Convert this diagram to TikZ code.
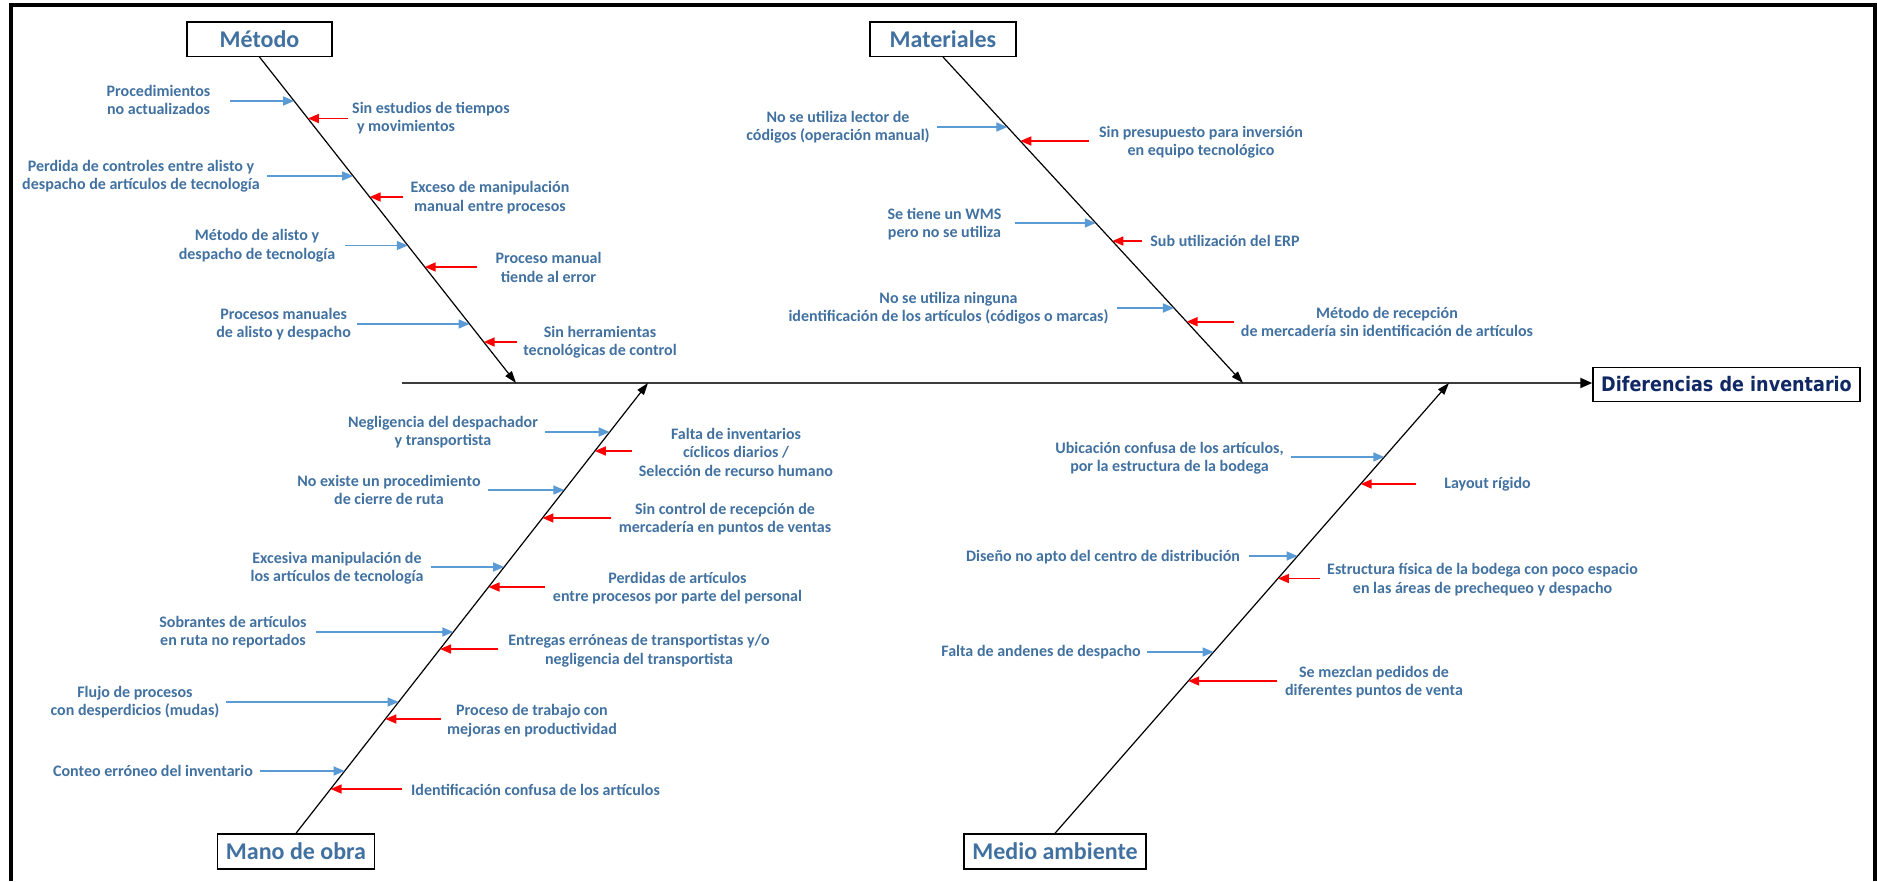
\documentclass[tikz,border=0pt]{standalone}
\usepackage{fontspec}
\setmainfont{Carlito}
\newfontfamily\efffont{DejaVu Sans}[FakeStretch=0.88]
\usetikzlibrary{arrows.meta,calc}
\definecolor{labtxt}{RGB}{65,113,160}
\definecolor{arrblue}{RGB}{91,155,213}
\definecolor{arrred}{RGB}{255,0,0}
\definecolor{efftxt}{RGB}{16,40,100}
\definecolor{spinegray}{RGB}{60,60,60}
\newcommand\causearr[6]{%
  \coordinate (#6s) at (#4,#5);
  \path let \p1=(#2), \p2=(#3) in
    coordinate (#6e) at ({\x1+(\x2-\x1)/(\y2-\y1)*((-#5pt)-(\y1))}, {-#5pt});
  \draw[#1] (#6s) -- (#6e);
}
\begin{document}
\begin{tikzpicture}[x=1pt,y=-1pt,
  lab/.style={font=\bfseries\fontsize{16}{18.5}\selectfont, text=labtxt, inner sep=0pt, align=center},
  cat/.style={draw=black, line width=1.5pt, fill=white, font=\bfseries\fontsize{24}{28}\selectfont, text=labtxt, inner sep=0pt},
  barr/.style={draw=arrblue, line width=1.6pt, -{Triangle[length=11pt,width=9pt]}},
  rarr/.style={draw=arrred, line width=1.6pt, -{Triangle[length=11pt,width=9pt]}},
  bone/.style={draw=black, line width=1.2pt, -{Triangle[length=12pt,width=8pt]}},
  spine/.style={draw=spinegray, line width=2pt, -{Triangle[length=12pt,width=10pt,color=black]}},
  frame/.style={draw=black, line width=3.5pt}]
\useasboundingbox (0,0) rectangle (1877,881);
\draw[frame] (11,881) -- (11,5) -- (1875,5) -- (1875,881);

% category boxes
\node[cat, minimum width=145pt, minimum height=34.5pt] (metodo) at (259.5,39) {Método};
\node[cat, minimum width=146pt, minimum height=34.5pt] (materiales) at (943,39) {Materiales};
\node[cat, minimum width=157pt, minimum height=35pt] (mano) at (296,851.5) {Mano de obra};
\node[cat, minimum width=182pt, minimum height=35pt] (medio) at (1055,851.5) {Medio ambiente};
\node[draw=black, line width=1.5pt, fill=white, minimum width=267pt, minimum height=34pt, inner sep=0pt,
      font=\efffont\bfseries\fontsize{20}{24}\selectfont, text=efftxt] (effect) at (1726.5,384.5) {Diferencias de inventario};

% spine and bones
\coordinate (spst) at (402,383);
\coordinate (sptip) at (effect.west |- spst);
\draw[spine] (spst) -- (sptip);
\coordinate (mtip) at (516,383);
\coordinate (matip) at (1243,383);
\coordinate (motip) at (648,383);
\coordinate (metip) at (1449,383);
\draw[bone] (metodo.south) -- (mtip);
\draw[bone] (materiales.south) -- (matip);
\draw[bone] (mano.north) -- (motip);
\draw[bone] (medio.north) -- (metip);

% Metodo causes
\causearr{barr}{metodo.south}{mtip}{230}{101}{mb1}
\causearr{rarr}{metodo.south}{mtip}{348}{118.5}{mr1}
\causearr{barr}{metodo.south}{mtip}{267}{176}{mb2}
\causearr{rarr}{metodo.south}{mtip}{403}{197}{mr2}
\causearr{barr}{metodo.south}{mtip}{345}{245.5}{mb3}
\causearr{rarr}{metodo.south}{mtip}{477}{267}{mr3}
\causearr{barr}{metodo.south}{mtip}{357}{324}{mb4}
\causearr{rarr}{metodo.south}{mtip}{517}{342}{mr4}
\node[lab] (tmb1) at (158.5,100) {Procedimientos\\no actualizados};
\node[lab, align=left, anchor=west] (tmr1) at (352,118) {Sin estudios de tiempos\\\hspace{0.3em}y movimientos};
\node[lab] (tmb2) at (141,176) {Perdida de controles entre alisto y\\despacho de artículos de tecnología};
\node[lab] (tmr2) at (490,197.5) {Exceso de manipulación\\manual entre procesos};
\node[lab] (tmb3) at (257,245.5) {Método de alisto y\\despacho de tecnología};
\node[lab] (tmr3) at (548.5,267.5) {Proceso manual\\tiende al error};
\node[lab] (tmb4) at (283.6,324) {Procesos manuales\\de alisto y despacho};
\node[lab] (tmr4) at (600,342) {Sin herramientas\\tecnológicas de control};

% Materiales causes
\causearr{barr}{materiales.south}{matip}{937}{127}{ab1}
\causearr{rarr}{materiales.south}{matip}{1089}{141}{ar1}
\causearr{barr}{materiales.south}{matip}{1015}{223}{ab2}
\causearr{rarr}{materiales.south}{matip}{1141.5}{241}{ar2}
\causearr{barr}{materiales.south}{matip}{1117}{308}{ab3}
\causearr{rarr}{materiales.south}{matip}{1234}{321.7}{ar3}
\node[lab] (tab1) at (838,127) {No se utiliza lector de\\códigos (operación manual)};
\node[lab] (tar1) at (1201,142) {Sin presupuesto para inversión\\en equipo tecnológico};
\node[lab] (tab2) at (944.5,224) {Se tiene un WMS\\pero no se utiliza};
\node[lab] (tar2) at (1225,241) {Sub utilización del ERP};
\node[lab] (tab3) at (948.5,308) {No se utiliza ninguna\\identificación de los artículos (códigos o marcas)};
\node[lab] (tar3) at (1387,322) {Método de recepción\\de mercadería sin identificación de artículos};

% Mano de obra causes
\causearr{barr}{mano.north}{motip}{545}{432}{ob1}
\causearr{rarr}{mano.north}{motip}{631.5}{451}{or1}
\causearr{barr}{mano.north}{motip}{488}{490}{ob2}
\causearr{rarr}{mano.north}{motip}{611}{518}{or2}
\causearr{barr}{mano.north}{motip}{430.5}{567}{ob3}
\causearr{rarr}{mano.north}{motip}{545}{587}{or3}
\causearr{barr}{mano.north}{motip}{316}{632}{ob4}
\causearr{rarr}{mano.north}{motip}{498}{649}{or4}
\causearr{barr}{mano.north}{motip}{226}{702}{ob5}
\causearr{rarr}{mano.north}{motip}{441}{719}{or5}
\causearr{barr}{mano.north}{motip}{260}{771}{ob6}
\causearr{rarr}{mano.north}{motip}{402}{789}{or6}
\node[lab] (tob1) at (443,432) {Negligencia del despachador\\y transportista};
\node[lab] (tor1) at (736,452) {Falta de inventarios\\cíclicos diarios /\\Selección de recurso humano};
\node[lab] (tob2) at (389,490) {No existe un procedimiento\\de cierre de ruta};
\node[lab] (tor2) at (725,519) {Sin control de recepción de\\mercadería en puntos de ventas};
\node[lab] (tob3) at (337,568) {Excesiva manipulación de\\los artículos de tecnología};
\node[lab] (tor3) at (677.5,588) {Perdidas de artículos\\entre procesos por parte del personal};
\node[lab] (tob4) at (233,632) {Sobrantes de artículos\\en ruta no reportados};
\node[lab] (tor4) at (639,650.5) {Entregas erróneas de transportistas y/o\\negligencia del transportista};
\node[lab] (tob5) at (135,702) {Flujo de procesos\\con desperdicios (mudas)};
\node[lab] (tor5) at (532,720.5) {Proceso de trabajo con\\mejoras en productividad};
\node[lab] (tob6) at (153,771) {Conteo erróneo del inventario};
\node[lab] (tor6) at (535.5,790) {Identificación confusa de los artículos};

% Medio ambiente causes
\causearr{barr}{medio.north}{metip}{1290.6}{457}{eb1}
\causearr{rarr}{medio.north}{metip}{1415.6}{484}{er1}
\causearr{barr}{medio.north}{metip}{1249}{556}{eb2}
\causearr{rarr}{medio.north}{metip}{1320}{578.5}{er2}
\causearr{barr}{medio.north}{metip}{1147}{652}{eb3}
\causearr{rarr}{medio.north}{metip}{1277}{681}{er3}
\node[lab] (teb1) at (1169.5,458) {Ubicación confusa de los artículos,\\por la estructura de la bodega};
\node[lab] (ter1) at (1487.5,484) {Layout rígido};
\node[lab] (teb2) at (1103,557) {Diseño no apto del centro de distribución};
\node[lab, anchor=west] (ter2) at (1327,579.5) {Estructura física de la bodega con poco espacio\\en las áreas de prechequeo y despacho};
\node[lab] (teb3) at (1041,652) {Falta de andenes de despacho};
\node[lab] (ter3) at (1374,682) {Se mezclan pedidos de\\diferentes puntos de venta};
\end{tikzpicture}
\end{document}
